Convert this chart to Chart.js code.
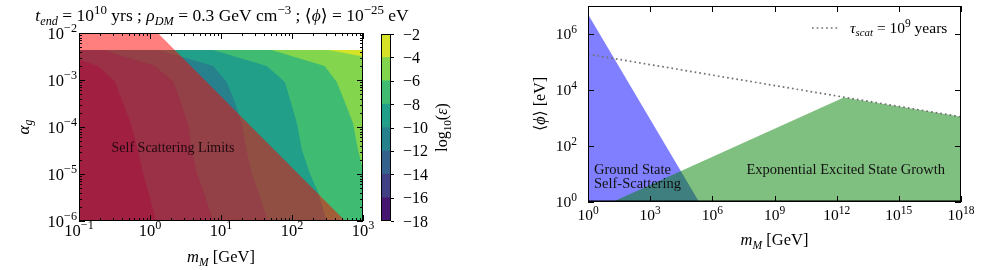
<!DOCTYPE html>
<html>
<head>
<meta charset="utf-8">
<script src="https://cdn.jsdelivr.net/npm/chart.js@4.4.0/dist/chart.umd.min.js"></script>
<style>
  body { margin: 0; background: #fff; width: 981px; height: 270px; position: relative; overflow: hidden; }
  canvas { position: absolute; top: 0; }
  #left { left: 0; }
  #cbar { left: 370px; }
  #right { left: 490px; }
</style>
</head>
<body>
<canvas id="left" width="480" height="270"></canvas>
<canvas id="cbar" width="110" height="270"></canvas>
<canvas id="right" width="491" height="270"></canvas>
<script>
// ---- left panel: filled contours of log10(eps) vs (m_M, alpha_g) ----
// polygons are [log10 m_M, log10 alpha_g]
const epsLevels = [-18, -16, -14, -12, -10, -8, -6, -4, -2];
const epsColors = ['#461770', '#424085', '#34628d', '#27818d', '#229f89', '#40bc72', '#82d54c', '#d5e226'];

const gridBox = [[-1, -6], [-1, -2.36], [3, -2.36], [3, -6]];
const above14 = [[-1, -2.36], [-1, -2.57], [-0.73, -2.70], [-0.49, -3.04], [-0.39, -3.45], [-0.27, -3.92], [-0.17, -4.49], [-0.10, -4.98], [-0.02, -5.40], [0.09, -6], [3, -6], [3, -2.36]];
const above12 = [[-0.65, -2.36], [0.07, -2.70], [0.33, -3.04], [0.43, -3.45], [0.53, -3.92], [0.59, -4.49], [0.66, -4.98], [0.76, -5.40], [0.89, -6], [3, -6], [3, -2.36]];
const above10 = [[0.12, -2.36], [0.887, -2.70], [1.08, -3.04], [1.19, -3.45], [1.29, -3.92], [1.36, -4.49], [1.43, -4.98], [1.53, -5.40], [1.66, -6], [3, -6], [3, -2.36]];
const above8 = [[0.887, -2.36], [1.644, -2.70], [1.90, -3.04], [1.98, -3.45], [2.07, -3.92], [2.14, -4.49], [2.25, -4.98], [2.37, -5.40], [2.49, -6], [3, -6], [3, -2.36]];
const above6 = [[1.71, -2.36], [2.46, -2.70], [2.63, -3.04], [2.74, -3.45], [2.86, -3.92], [2.93, -4.49], [3, -4.91], [3, -2.36]];
const above4 = [[2.51, -2.36], [3, -2.5], [3, -2.36]];
const selfScatter = [[-1, -2], [0.11, -2], [2.75, -6], [-1, -6]];

const leftXExp = [-1, 0, 1, 2, 3];
const leftYExp = [-6, -5, -4, -3, -2];
const cbarTicks = [-18, -16, -14, -12, -10, -8, -6, -4, -2];

// ---- right panel: regions in (m_M [GeV], <phi> [eV]) ----
const groundState = [[1, 5.1e6], [2.3e5, 1], [1, 1]];
const excitedGrowth = [[15, 1], [2.2e12, 5400], [1e18, 1100], [1e18, 1]];
const tauScat = [[1, 1.9e5], [1e18, 1100]];

const rightXExp = [0, 3, 6, 9, 12, 15, 18];
const rightYExp = [0, 2, 4, 6];

// ---- text helpers (sub/superscripts) ----
const SERIF = '"Liberation Serif", "DejaVu Serif", serif';

function drawRich(ctx, parts, size, x, y, align, color) {
  const runs = parts.map(([t, k = '']) => {
    const s = k.includes('p') ? size * 0.74 : (k.includes('b') ? size * 0.7 : size);
    return {
      t: t,
      f: (k.includes('i') ? 'italic ' : '') + s + 'px ' + SERIF,
      dy: k.includes('b') ? size * 0.22 : (k.includes('p') ? -size * 0.4 : 0)
    };
  });
  let w = 0;
  runs.forEach(r => { ctx.font = r.f; r.w = ctx.measureText(r.t).width; w += r.w; });
  let cx = align === 'center' ? x - w / 2 : (align === 'right' ? x - w : x);
  ctx.fillStyle = color || '#000';
  ctx.textAlign = 'left';
  ctx.textBaseline = 'alphabetic';
  runs.forEach(r => { ctx.font = r.f; ctx.fillText(r.t, cx, y + r.dy); cx += r.w; });
  return w;
}

function drawRotated(ctx, parts, size, cx, cy) {
  ctx.save();
  ctx.translate(cx, cy);
  ctx.rotate(-Math.PI / 2);
  drawRich(ctx, parts, size, 0, size * 0.33, 'center');
  ctx.restore();
}

function power(e) {
  return [['10'], [String(e).replace('-', '\u2212'), 'p']];
}

function drawAxes(chart, xExp, yExp, minor) {
  const { ctx, chartArea: a, scales: { x, y } } = chart;
  ctx.save();
  ctx.strokeStyle = '#000';
  ctx.lineWidth = 1;
  ctx.beginPath();
  const vTick = (v, len) => {
    const p = Math.round(x.getPixelForValue(v)) + 0.5;
    ctx.moveTo(p, a.bottom); ctx.lineTo(p, a.bottom - len);
    ctx.moveTo(p, a.top); ctx.lineTo(p, a.top + len);
  };
  const hTick = (v, len) => {
    const p = Math.round(y.getPixelForValue(v)) + 0.5;
    ctx.moveTo(a.left, p); ctx.lineTo(a.left + len, p);
    ctx.moveTo(a.right, p); ctx.lineTo(a.right - len, p);
  };
  xExp.forEach(e => vTick(10 ** e, 6));
  yExp.forEach(e => hTick(10 ** e, 6));
  if (minor) {
    for (let e = xExp[0]; e < xExp[xExp.length - 1]; e++)
      for (let k = 2; k < 10; k++) vTick(k * 10 ** e, 3);
    for (let e = yExp[0]; e < yExp[yExp.length - 1]; e++)
      for (let k = 2; k < 10; k++) hTick(k * 10 ** e, 3);
  }
  ctx.stroke();
  ctx.strokeRect(a.left + 0.5, a.top + 0.5, a.right - a.left - 1, a.bottom - a.top - 1);
  ctx.restore();
}

function polySet(points, color, isLog) {
  return {
    data: points.map(p => isLog ? { x: 10 ** p[0], y: 10 ** p[1] } : { x: p[0], y: p[1] }),
    fill: 'shape',
    backgroundColor: color,
    borderColor: 'transparent',
    borderWidth: 0,
    pointRadius: 0,
    tension: 0
  };
}

// bottom layer first; chart.js draws higher "order" underneath
function stackLayers(layers) {
  return layers.map((d, i) => Object.assign(d, { order: layers.length - i }));
}

const baseOptions = (pad, xr, yr) => ({
  responsive: false,
  animation: false,
  devicePixelRatio: 1,
  layout: { padding: pad },
  plugins: { legend: { display: false }, tooltip: { enabled: false } },
  scales: {
    x: { type: 'logarithmic', min: xr[0], max: xr[1], display: false },
    y: { type: 'logarithmic', min: yr[0], max: yr[1], display: false }
  }
});

// ---- left chart ----
const leftLayers = stackLayers([
  polySet(gridBox, epsColors[1], true),
  polySet(above14, epsColors[2], true),
  polySet(above12, epsColors[3], true),
  polySet(above10, epsColors[4], true),
  polySet(above8, epsColors[5], true),
  polySet(above6, epsColors[6], true),
  polySet(above4, epsColors[7], true),
  polySet(selfScatter, 'rgba(255,0,0,0.5)', true)
]);

new Chart(document.getElementById('left'), {
  type: 'line',
  data: { datasets: leftLayers },
  options: baseOptions({ left: 79, right: 117, top: 33, bottom: 49 }, [0.1, 1000], [1e-6, 1e-2]),
  plugins: [{
    id: 'leftAxes',
    afterDatasetsDraw(chart) {
      const { ctx, chartArea: a, scales: { x, y } } = chart;
      drawRich(ctx, [['Self Scattering Limits']], 14, 173, 152, 'center', '#22080f');
      drawAxes(chart, leftXExp, leftYExp, true);
      leftXExp.forEach(e => drawRich(ctx, power(e), 16.5, x.getPixelForValue(10 ** e), 236, 'center'));
      leftYExp.forEach(e => drawRich(ctx, power(e), 16.5, 77, y.getPixelForValue(10 ** e) + 5.5, 'right'));
      drawRich(ctx, [['m', 'i'], ['M', 'ib'], [' [GeV]']], 16.5, (a.left + a.right) / 2, 262, 'center');
      drawRotated(ctx, [['\u03b1', 'i'], ['g', 'ib']], 17, 23, (a.top + a.bottom) / 2);
      drawRich(ctx, [['t', 'i'], ['end', 'ib'], [' = 10'], ['10', 'p'], [' yrs ; '], ['\u03c1', 'i'], ['DM', 'ib'],
        [' = 0.3 GeV cm'], ['\u22123', 'p'], [' ; \u27e8'], ['\u03d5', 'i'], ['\u27e9 = 10'], ['\u221225', 'p'], [' eV']],
        17.5, (a.left + a.right) / 2 + 1, 21, 'center');
    }
  }]
});

// ---- colorbar ----
new Chart(document.getElementById('cbar'), {
  type: 'bar',
  data: {
    labels: [''],
    datasets: epsColors.map((c, i) => ({
      data: [[epsLevels[i], epsLevels[i + 1]]],
      backgroundColor: c,
      borderWidth: 0,
      grouped: false,
      categoryPercentage: 1,
      barPercentage: 1
    }))
  },
  options: {
    responsive: false,
    animation: false,
    devicePixelRatio: 1,
    layout: { padding: { left: 11, right: 89, top: 34, bottom: 49 } },
    plugins: { legend: { display: false }, tooltip: { enabled: false } },
    scales: { x: { display: false }, y: { display: false, min: -18, max: -2 } }
  },
  plugins: [{
    id: 'cbarAxis',
    afterDatasetsDraw(chart) {
      const { ctx, chartArea: a, scales: { y } } = chart;
      ctx.save();
      ctx.strokeStyle = '#000';
      ctx.lineWidth = 1;
      ctx.strokeRect(a.left + 0.5, a.top + 0.5, a.right - a.left - 1, a.bottom - a.top - 1);
      ctx.beginPath();
      cbarTicks.forEach(t => {
        const p = Math.round(y.getPixelForValue(t)) + 0.5;
        ctx.moveTo(a.right, p); ctx.lineTo(a.right + 3, p);
      });
      ctx.stroke();
      ctx.restore();
      cbarTicks.forEach(t => drawRich(ctx, [[String(t).replace('-', '\u2212')]], 16, 33, y.getPixelForValue(t) + 5.5, 'left'));
      drawRotated(ctx, [['log'], ['10', 'b'], ['('], ['\u03b5', 'i'], [')']], 16, 72, (a.top + a.bottom) / 2);
    }
  }]
});

// ---- right chart ----
const rightLayers = stackLayers([
  polySet(groundState, 'rgba(0,0,255,0.5)', false),
  polySet(excitedGrowth, 'rgba(0,128,0,0.5)', false),
  {
    data: tauScat.map(p => ({ x: p[0], y: p[1] })),
    fill: false,
    borderColor: '#707070',
    borderWidth: 1.7,
    borderDash: [1.7, 3],
    pointRadius: 0
  }
]);

new Chart(document.getElementById('right'), {
  type: 'line',
  data: { datasets: rightLayers },
  options: baseOptions({ left: 98, right: 20, top: 6, bottom: 68 }, [1, 1e18], [1, 1e7]),
  plugins: [{
    id: 'rightAxes',
    afterDatasetsDraw(chart) {
      const { ctx, chartArea: a, scales: { x, y } } = chart;
      drawRich(ctx, [['Ground State']], 14.5, 104, 174, 'left', '#111');
      drawRich(ctx, [['Self-Scattering']], 14.5, 104, 188, 'left', '#111');
      drawRich(ctx, [['Exponential Excited State Growth']], 14.5, 945 - 490, 174, 'right', '#111');
      drawAxes(chart, rightXExp, rightYExp, false);
      ctx.save();
      ctx.fillStyle = 'rgba(0,0,0,0.55)';
      ctx.fillRect(a.left, a.bottom - 2, a.right - a.left, 1.5);
      ctx.restore();
      rightXExp.forEach(e => drawRich(ctx, power(e), 15.5, x.getPixelForValue(10 ** e), 220, 'center'));
      rightYExp.forEach(e => drawRich(ctx, power(e), 15.5, 87, y.getPixelForValue(10 ** e) + 5, 'right'));
      drawRich(ctx, [['m', 'i'], ['M', 'ib'], [' [GeV]']], 16.5, (a.left + a.right) / 2, 245, 'center');
      drawRotated(ctx, [['\u27e8'], ['\u03d5', 'i'], ['\u27e9 [eV]']], 16, 50, (a.top + a.bottom) / 2);
      // legend
      ctx.save();
      ctx.strokeStyle = '#707070';
      ctx.lineWidth = 1.7;
      ctx.setLineDash([1.7, 3]);
      ctx.beginPath();
      ctx.moveTo(322, 28); ctx.lineTo(348, 28);
      ctx.stroke();
      ctx.restore();
      drawRich(ctx, [['\u03c4', 'i'], ['scat', 'ib'], [' = 10'], ['9', 'p'], [' years']], 15.5, 360, 33, 'left');
    }
  }]
});
</script>
</body>
</html>
